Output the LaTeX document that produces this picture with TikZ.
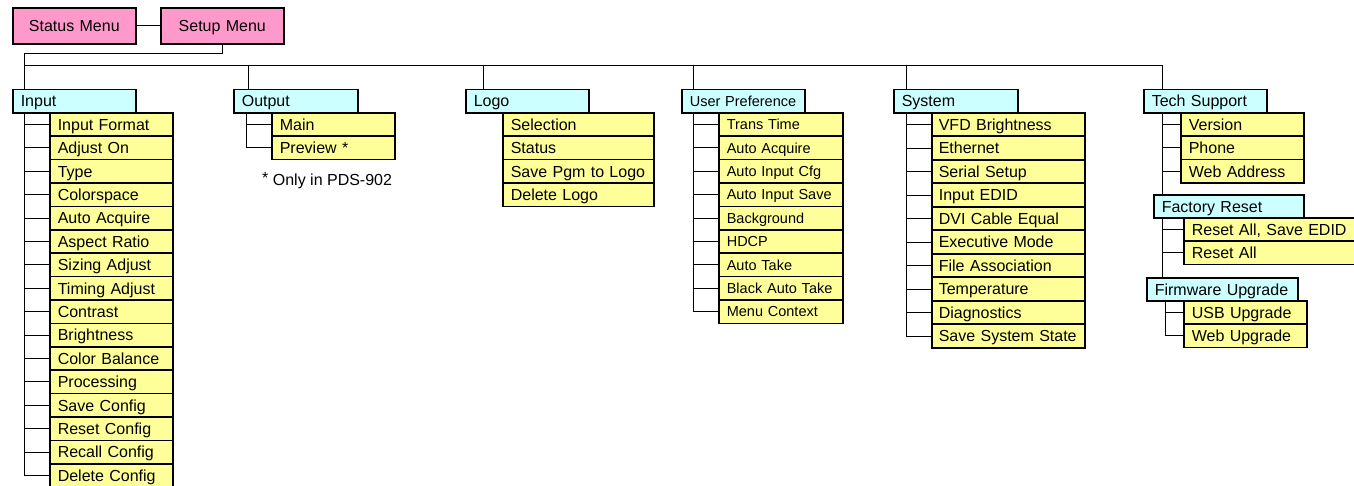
\documentclass[tikz,border=0pt]{standalone}
\usepackage{fontspec}
\setmainfont{Liberation Sans}
\definecolor{menupink}{HTML}{FF99CC}
\definecolor{headcyan}{HTML}{CCFFFF}
\definecolor{itemyellow}{HTML}{FFFF99}
\tikzset{
    box/.style={draw, line width=1.6pt, anchor=north west, inner ysep=0pt, align=left,
        font=\fontsize{16}{18}\selectfont, text height=11.5pt, text depth=0pt},
    menubox/.style={box, fill=menupink, inner xsep=0pt, align=center, text width=123pt, minimum height=36pt},
    headbox/.style={box, fill=headcyan, inner xsep=8pt, minimum height=23.4pt},
    itembox/.style={box, fill=itemyellow, inner xsep=8pt, minimum height=23.4pt},
    smalltext/.style={font=\fontsize{14.5}{16}\selectfont, text height=10.4pt},
    link/.style={line width=0.9pt}
}
\begin{document}
\begin{tikzpicture}[x=1pt, y=-1pt]
\useasboundingbox (0,0) rectangle (1354,486);
% menus
\node[menubox] (status) at (12,7) {Status Menu};
\node[menubox] (setup) at (160,7) {Setup Menu};
\draw[link] (status) -- (setup);
% headers
\node[headbox, text width=107pt] (input) at (12,88.6) {Input};
\node[headbox, text width=108pt] (output) at (233,88.6) {Output};
\node[headbox, text width=107pt] (logo) at (465,88.6) {Logo};
\node[headbox, smalltext, text width=107pt] (pref) at (681,88.6) {User Preference};
\node[headbox, text width=108pt] (sys) at (893,88.6) {System};
\node[headbox, text width=107pt] (tech) at (1143,88.6) {Tech Support};
\node[headbox, text width=134pt] (reset) at (1153,194) {Factory Reset};
\node[headbox, text width=135pt] (firm) at (1146,277) {Firmware Upgrade};
% bus
\coordinate (elbow) at (24,53);
\coordinate (bus) at (24,65);
\draw[link] (setup.south) |- (elbow) -- (input.north -| elbow);
\draw[link] (bus) -- ([xshift=19pt]tech.north west |- bus);
\foreach \n/\dx in {output/15, logo/18, pref/12, sys/13, tech/19}
{
    \draw[link] ([xshift=\dx pt]\n.north west |- bus) -- ([xshift=\dx pt]\n.north west);
}
% input
\foreach \t [count=\i] in {Input Format, Adjust On, Type, Colorspace, Auto Acquire, Aspect Ratio,
    Sizing Adjust, Timing Adjust, Contrast, Brightness, Color Balance, Processing, Save Config,
    Reset Config, Recall Config, Delete Config}
{
    \node[itembox, text width=107pt] (in\i) at (49,{112+23.4*(\i-1)}) {\t};
    \draw[link] ([xshift=12pt]input.south west) |- (in\i.west);
}
% output
\foreach \t [count=\i] in {Main, Preview *}
{
    \node[itembox, text width=107pt] (out\i) at (271,{112+23.4*(\i-1)}) {\t};
    \draw[link] ([xshift=13pt]output.south west) |- (out\i.west);
}
\node[anchor=west, inner sep=0pt, font=\fontsize{16}{18}\selectfont] (note) at (262,181) {\raisebox{2pt}{*} Only in PDS-902};
% logo
\foreach \t [count=\i] in {Selection, Status, Save Pgm to Logo, Delete Logo}
{
    \node[itembox, text width=135pt] (lg\i) at (502,{112+23.4*(\i-1)}) {\t};
}
% user preference
\foreach \t [count=\i] in {Trans Time, Auto Acquire, Auto Input Cfg, Auto Input Save, Background,
    HDCP, Auto Take, Black Auto Take, Menu Context}
{
    \node[itembox, smalltext, text width=108pt] (up\i) at (718,{112+23.4*(\i-1)}) {\t};
    \draw[link] ([xshift=12pt]pref.south west) |- (up\i.west);
}
% system
\foreach \t [count=\i] in {VFD Brightness, Ethernet, Serial Setup, Input EDID, DVI Cable Equal,
    Executive Mode, File Association, Temperature, Diagnostics, Save System State}
{
    \node[itembox, inner xsep=7pt, text width=139pt] (sy\i) at (931,{112+23.5*(\i-1)}) {\t};
    \draw[link] ([xshift=13pt]sys.south west) |- (sy\i.west);
}
% tech support
\foreach \t [count=\i] in {Version, Phone, Web Address}
{
    \node[itembox, text width=107pt] (ts\i) at (1180,{112+23.4*(\i-1)}) {\t};
    \draw[link] ([xshift=19pt]tech.south west) |- (ts\i.west);
}
\draw[link] ([xshift=19pt]tech.south west) -- ([xshift=19pt]tech.south west |- reset.north);
\foreach \t [count=\i] in {{Reset All, Save EDID}, Reset All}
{
    \node[itembox, text width=159pt] (fr\i) at (1183,{217+23.4*(\i-1)}) {\t};
    \draw[link] ([xshift=9pt]reset.south west) |- (fr\i.west);
}
\draw[link] ([xshift=9pt]reset.south west) -- ([xshift=9pt]reset.south west |- firm.north);
\foreach \t [count=\i] in {USB Upgrade, Web Upgrade}
{
    \node[itembox, text width=107pt] (fw\i) at (1183,{300+23.4*(\i-1)}) {\t};
    \draw[link] ([xshift=19pt]firm.south west) |- (fw\i.west);
}
\end{tikzpicture}
\end{document}
